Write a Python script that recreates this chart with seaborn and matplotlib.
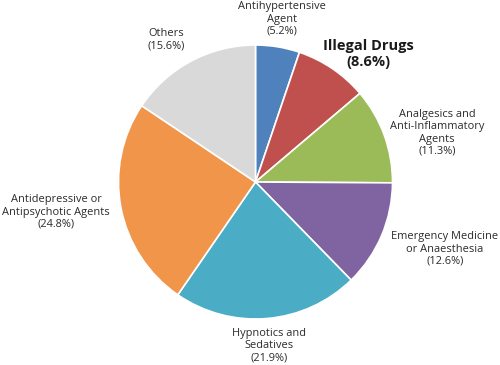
import seaborn as sns
import matplotlib.pyplot as plt

categories = ['Antihypertensive\nAgent', 'Illegal Drugs', 'Analgesics and\nAnti-Inflammatory\nAgents',
              'Emergency Medicine\nor Anaesthesia', 'Hypnotics and\nSedatives',
              'Antidepressive or\nAntipsychotic Agents', 'Others']
shares = [5.2, 8.6, 11.3, 12.6, 21.9, 24.8, 15.6]
colors = ['#4F81BD', '#C0504D', '#9BBB59', '#8064A2', '#4BACC6', '#F0954A', '#D9D9D9']

# label centres in pixels (x from left, y from top)
label_pos = [(282, 19), (368, 54), (437, 133), (445, 249), (269, 346), (56, 212), (166, 40)]

sns.set_theme(style='white')
plt.rcParams['font.family'] = ['Open Sans', 'DejaVu Sans']

W, H = 500, 365
fig = plt.figure(figsize=(W / 100, H / 100), dpi=100)
ax = fig.add_axes([0, 0, 1, 1])
cx, cy, r = 255.5, 182, 137

ax.pie(shares, colors=colors, startangle=90, counterclock=False, radius=1,
       wedgeprops=dict(edgecolor='white', linewidth=1.2))
ax.set_xlim(-cx / r, (W - cx) / r)
ax.set_ylim(-(H - cy) / r, cy / r)
ax.set_aspect('equal')
ax.axis('off')

for i, (name, val) in enumerate(zip(categories, shares)):
    px, py = label_pos[i]
    x, y = (px - cx) / r, (cy - py) / r
    if name == 'Illegal Drugs':
        ax.text(x, y, f'{name}\n({val}%)', ha='center', va='center', fontsize=10.5,
                fontweight='bold', color='#1a1a1a', linespacing=1.2)
    else:
        ax.text(x, y, f'{name}\n({val}%)', ha='center', va='center', fontsize=7.9,
                color='#2a2a2a', linespacing=1.15)

fig.savefig('out.png', dpi=100)
